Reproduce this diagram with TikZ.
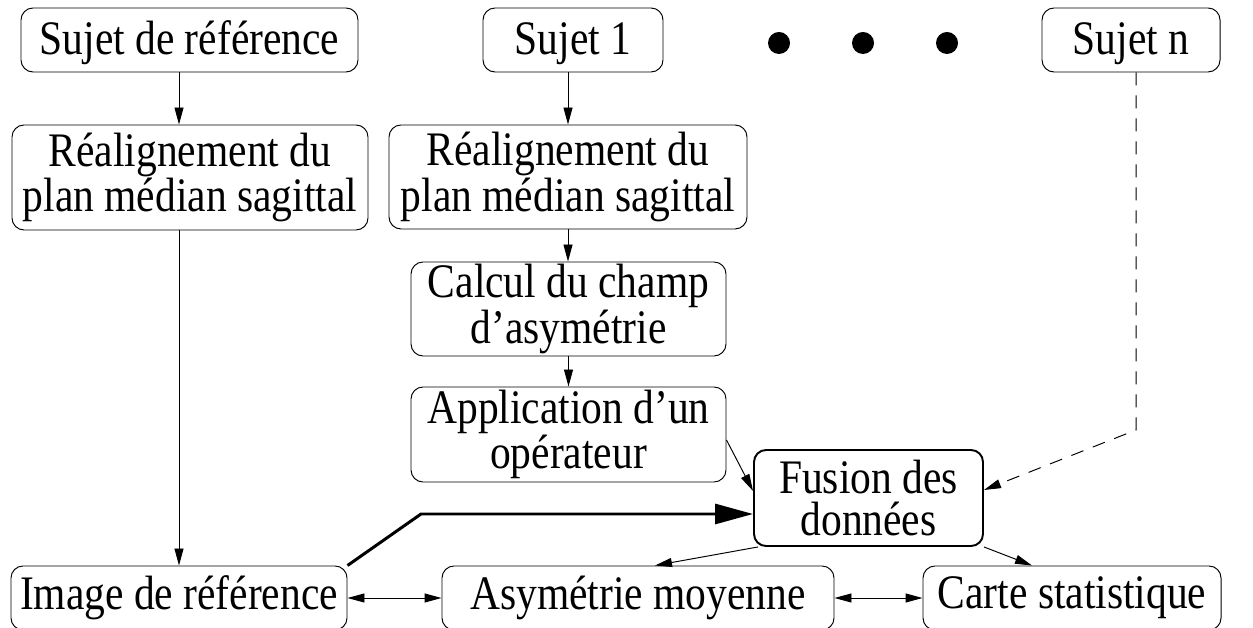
\documentclass[tikz,border=0pt]{standalone}
\usepackage{fontspec}
\setmainfont{Liberation Serif}[FakeStretch=0.862]
\usetikzlibrary{arrows.meta,calc}

\begin{document}
\begin{tikzpicture}[x=1cm,y=1cm,line width=0.55pt,
  >={Triangle[length=0.34cm,width=0.18cm]},
  bloc/.style={draw,rounded corners=0.24cm,align=center,inner sep=0pt,
    font=\fontsize{27.4}{24}\selectfont,minimum height=1.28cm},
  haut/.style={text height=0.6cm,text depth=0cm}]
\useasboundingbox (0,0) rectangle (25.06,12.56);

\node[bloc,haut,minimum width=6.74cm] (ref) at (3.79,11.76) {Sujet de référence};
\node[bloc,haut,minimum width=3.6cm] (s1) at (11.46,11.76) {Sujet 1};
\node[bloc,haut,minimum width=3.56cm] (sn) at (22.62,11.76) {Sujet n};
\foreach \x in {15.58,17.26,18.94}
  \fill (\x,11.70) circle (0.22);

\node[bloc,minimum width=7.12cm,minimum height=2.10cm] (realA) at (3.80,9.01)
  {Réalignement du\\plan médian sagittal};
\node[bloc,minimum width=7.16cm,minimum height=2.08cm] (realB) at (11.36,9.02)
  {Réalignement du\\plan médian sagittal};
\node[bloc,minimum width=6.30cm,minimum height=1.88cm] (calc) at (11.37,6.38)
  {Calcul du champ\\d’asymétrie};
\node[bloc,minimum width=6.30cm,minimum height=1.90cm] (appl) at (11.37,3.87)
  {Application d’un\\opérateur};
\node[bloc,line width=1.1pt,minimum width=4.58cm,minimum height=1.92cm] (fusion) at (17.37,2.60)
  {Fusion des\\données};

\node[bloc,minimum width=6.72cm] (img) at (3.58,0.60) {Image de référence};
\node[bloc,minimum width=7.84cm] (asym) at (12.76,0.60) {Asymétrie moyenne};
\node[bloc,minimum width=5.96cm] (carte) at (21.44,0.60) {Carte statistique};

% colonne de reference
\draw[->] (ref.south -| img.north) -- (realA.north -| img.north);
\draw[->] (realA.south -| img.north) -- (img.north);

% colonne du sujet 1
\draw[->] (s1.south -| realB.north) -- (realB.north);
\draw[->] (realB.south) -- (realB.south |- calc.north);
\draw[->] (calc.south) -- (appl.north);
\draw[->] ($(appl.east)+(0,-0.11)$) -- ($(fusion.west)+(0,0.14)$);

% image de reference vers la fusion
\coordinate (coude) at (8.42,2.28);
\draw[line width=1.7pt,-{Triangle[length=0.76cm,width=0.4cm]}]
  (img.north east) -- (coude) -- (coude -| fusion.west);

% sujet n
\coordinate (coudeN) at (22.72,3.96);
\draw[->,dash pattern=on 0.26cm off 0.2cm] (sn.south -| coudeN) -- (coudeN)
  -- ($(fusion.east)+(0,0.16)$);

% sorties
\draw[->] ($(fusion.south west)+(0.1,0)$) -- ($(asym.north)+(0.34,0)$);
\draw[->] (fusion.south east) -- ($(carte.north)+(-0.8,0)$);
\draw[<->] (img.east) -- (asym.west);
\draw[<->] (asym.east) -- (carte.west);
\end{tikzpicture}
\end{document}
